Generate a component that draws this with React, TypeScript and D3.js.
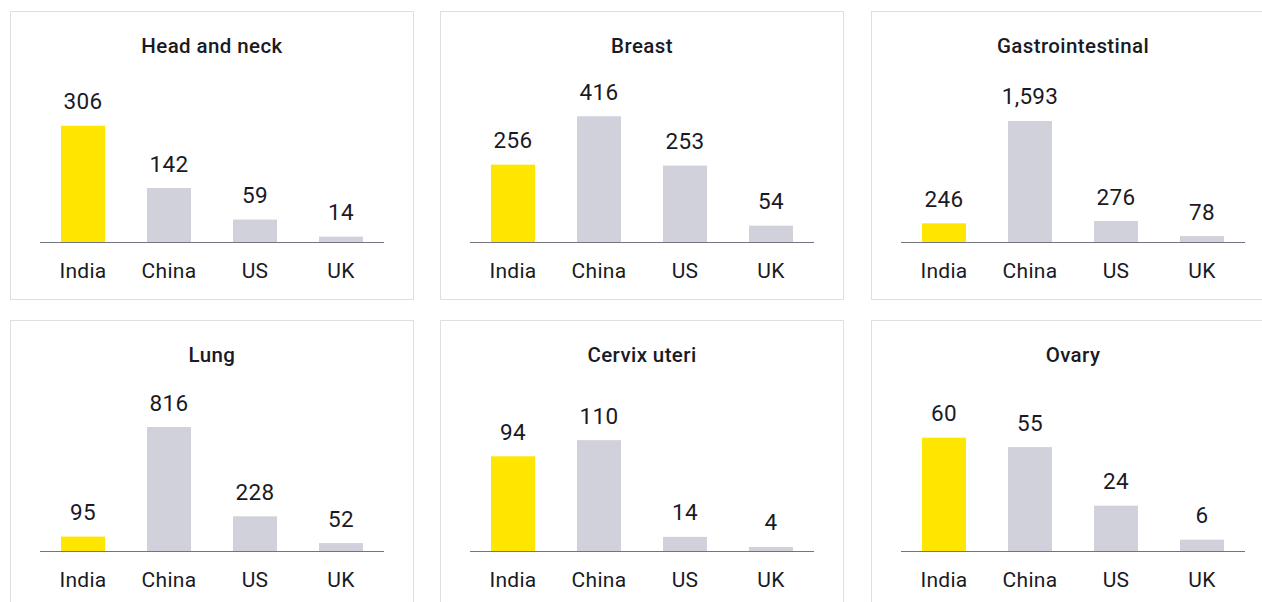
import React from "react";
import * as d3 from "d3";

const categories = ["India", "China", "US", "UK"];
const panelTitles = ["Head and neck", "Breast", "Gastrointestinal", "Lung", "Cervix uteri", "Ovary"];
const headNeck = [306, 142, 59, 14];
const breast = [256, 416, 253, 54];
const gastro = [246, 1593, 276, 78];
const lung = [95, 816, 228, 52];
const cervix = [94, 110, 14, 4];
const ovary = [60, 55, 24, 6];
const seriesValues = [headNeck, breast, gastro, lung, cervix, ovary];
// per-panel value-axis maximum (each small chart had its own scale)
const axisMax = [358, 450, 1790, 895, 135, 72];

const W = 1262;
const H = 602;
const PANEL_W = 403;
const PANEL_H = 288;
const COL_X = [10, 440, 871];
const ROW_Y = [11, 320];
const BASE_OFF = 231; // baseline offset from panel top
const PLOT_H = 136;

const YELLOW = "#FFE600";
const GREY = "#D0D1DA";
const AXIS = "#747480";
const BORDER = "#DEDEE4";
const TEXT = "#1A1A24";
const FONT = "Roboto, 'Noto Sans', sans-serif";

const fmt = d3.format(",");

function Panel({ idx }: { idx: number }) {
  const col = idx % 3;
  const row = Math.floor(idx / 3);
  const px = COL_X[col];
  const py = ROW_Y[row];
  const values = seriesValues[idx];
  const baseY = py + BASE_OFF;
  const x = d3
    .scaleBand<string>()
    .domain(categories)
    .range([px + 30, px + 374])
    .paddingInner(0.4884)
    .paddingOuter(0.2442);
  const y = d3.scaleLinear().domain([0, axisMax[idx]]).range([baseY, baseY - PLOT_H]);
  return (
    <g>
      <rect
        x={px + 0.5}
        y={py + 0.5}
        width={PANEL_W}
        height={PANEL_H}
        fill="#fff"
        stroke={BORDER}
        strokeWidth={1}
      />
      <text
        x={px + (30 + 374) / 2}
        y={py + 41.5}
        textAnchor="middle"
        fontFamily={FONT}
        fontSize={20.5}
        fontWeight={500}
        letterSpacing={0.4}
        fill={TEXT}
      >
        {panelTitles[idx]}
      </text>
      {categories.map((c, i) => (
        <g key={c}>
          <rect
            x={x(c)}
            y={y(values[i])}
            width={x.bandwidth()}
            height={baseY - y(values[i])}
            fill={i === 0 ? YELLOW : GREY}
          />
          <text
            x={(x(c) as number) + x.bandwidth() / 2}
            y={y(values[i]) - 16.5}
            textAnchor="middle"
            fontFamily={FONT}
            fontSize={22.5}
            fontWeight={400}
            letterSpacing={0.3}
            fill={TEXT}
          >
            {fmt(values[i])}
          </text>
          <text
            x={(x(c) as number) + x.bandwidth() / 2}
            y={baseY + 35.7}
            textAnchor="middle"
            fontFamily={FONT}
            fontSize={21}
            fontWeight={400}
            letterSpacing={0.3}
            fill={TEXT}
          >
            {c}
          </text>
        </g>
      ))}
      <line
        x1={px + 30}
        x2={px + 374}
        y1={baseY + 0.5}
        y2={baseY + 0.5}
        stroke={AXIS}
        strokeWidth={1.2}
      />
    </g>
  );
}

export default function App() {
  return (
    <svg
      width={W}
      height={H}
      style={{ position: "absolute", left: 0, top: 0, background: "#fff" }}
    >
      <rect x={0} y={0} width={W} height={H} fill="#fff" />
      {panelTitles.map((_, i) => (
        <Panel key={i} idx={i} />
      ))}
    </svg>
  );
}
